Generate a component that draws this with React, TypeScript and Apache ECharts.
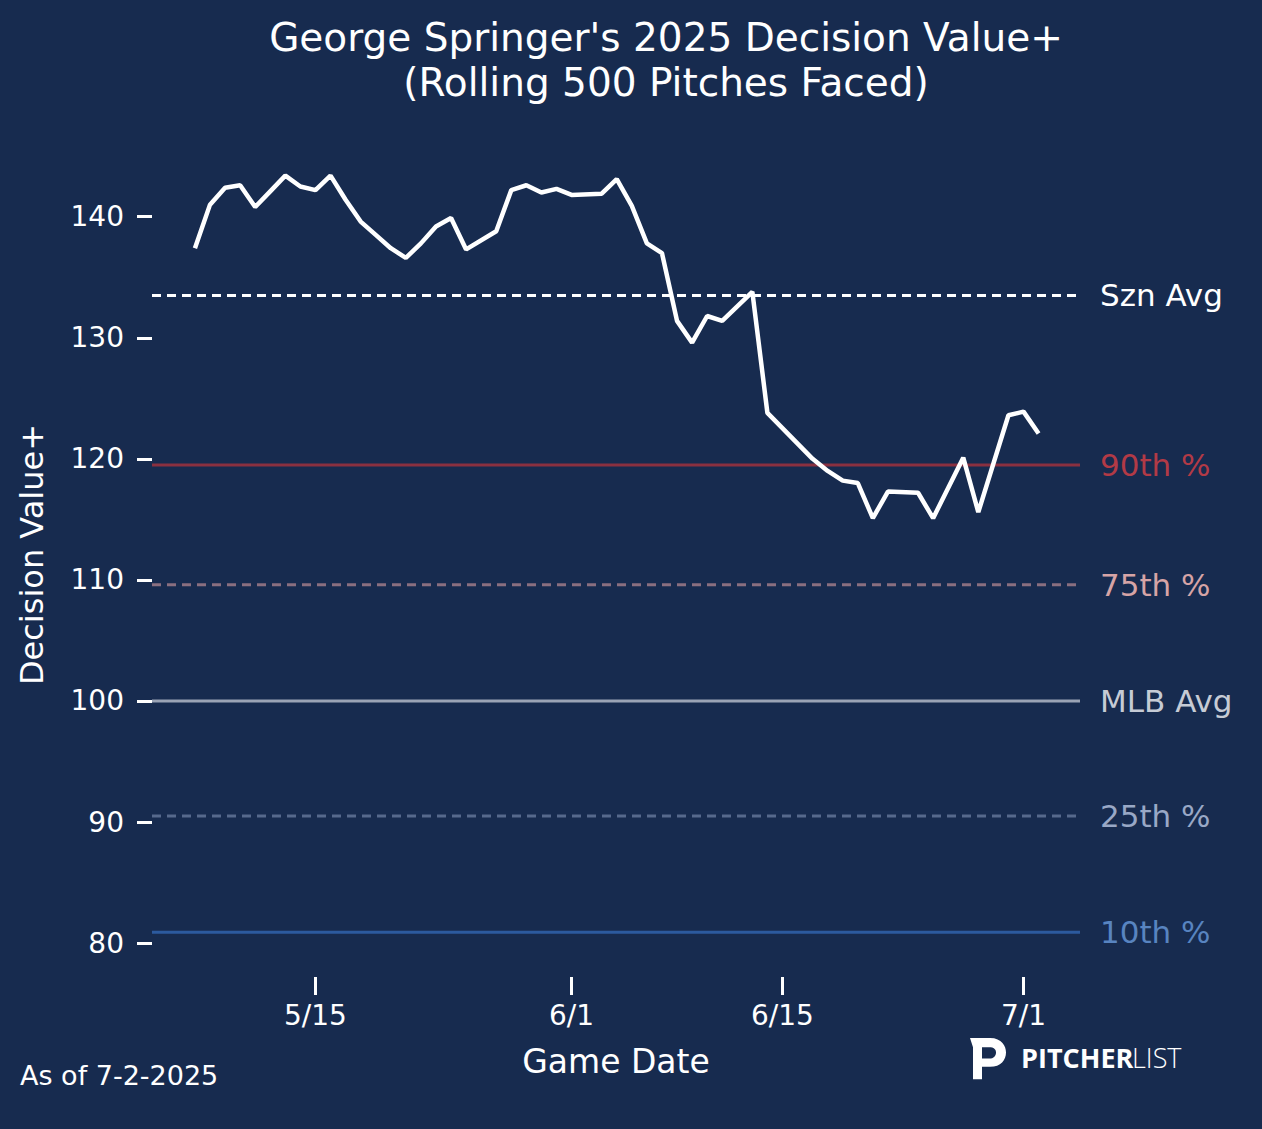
import * as echarts from "echarts";
import { useEffect, useRef } from "react";

// day of year 2025
const days = [127, 128, 129, 130, 131, 132, 133, 134, 135, 136, 137, 138, 139, 140, 141, 142, 143, 144, 145, 147, 148, 149, 150, 151, 152, 154, 155, 156, 157, 158, 159, 160, 161, 162, 164, 165, 168, 169, 170, 171, 172, 173, 175, 176, 178, 179, 181, 182, 183];
const values = [137.4, 141.0, 142.4, 142.6, 140.8, 142.1, 143.4, 142.5, 142.2, 143.4, 141.4, 139.6, 138.5, 137.4, 136.6, 137.8, 139.2, 139.9, 137.3, 138.8, 142.2, 142.6, 142.0, 142.3, 141.8, 141.9, 143.1, 140.9, 137.8, 137.0, 131.4, 129.6, 131.8, 131.4, 133.8, 123.8, 120.0, 119.0, 118.2, 118.0, 115.1, 117.3, 117.2, 115.1, 120.1, 115.6, 123.6, 123.9, 122.1];

const tickDays = [135, 152, 166, 182];
const tickLabels = ["5/15", "6/1", "6/15", "7/1"];
const yTicks = [80, 90, 100, 110, 120, 130, 140];

const refNames = ["Szn Avg", "90th %", "75th %", "MLB Avg", "25th %", "10th %"];
const refValues = [133.5, 119.5, 109.6, 100, 90.5, 80.9];
const refLine = ["#ffffff", "#8a3040", "#8a6f80", "#9aa3b5", "#56698c", "#2c5a9e"];
const refLabel = ["#ffffff", "#b23a46", "#d6a4a6", "#c6cbd5", "#99a8c6", "#5884c0"];
const refDashed = [true, false, true, false, true, false];

const X_MIN = 124.15;
const X_MAX = 185.75;
const BG = "#172b4f";
const FONT = "DejaVu Sans";

export default function App() {
  const ref = useRef<HTMLDivElement | null>(null);

  useEffect(() => {
    document.body.style.margin = "0";
    const el = ref.current;
    if (!el) return;
    const chart = echarts.init(el, undefined, { renderer: "svg" });
    echarts.graphic.registerShape(
      "plogo",
      echarts.graphic.extendPath("M0 0 L20 0 C32 0 36 8 36 14 C36 21 31 28 20 28 L12 28 L12 40 L3 40 L3 9 L0 0 Z M12 9 L12 20 L19 20 C24 20 26 17 26 14 C26 11 24 9 19 9 Z", {}) as any
    );
    const lines = refValues.map((v, i) => ({
      name: refNames[i],
      type: "line" as const,
      data: [[X_MIN, v], [X_MAX, v]],
      symbol: "none",
      lineStyle: { color: refLine[i], width: 3, type: refDashed[i] ? [9, 6] : "solid" },
      endLabel: {
        show: true,
        formatter: refNames[i],
        color: refLabel[i],
        fontSize: 31,
        fontFamily: FONT,
        distance: 20,
      },
      z: 1,
    }));
    chart.setOption({
      animation: false,
      backgroundColor: BG,
      textStyle: { fontFamily: FONT },
      title: {
        text: "George Springer's 2025 Decision Value+\n(Rolling 500 Pitches Faced)",
        left: 661,
        top: 10,
        textAlign: "center",
        textStyle: { color: "#fff", fontSize: 39, fontWeight: "normal", lineHeight: 45, fontFamily: FONT },
      },
      grid: { left: 152, right: 182, top: 132, bottom: 152 },
      xAxis: {
        type: "value",
        min: X_MIN,
        max: X_MAX,
        name: "Game Date",
        nameLocation: "middle",
        nameGap: 68,
        nameTextStyle: { color: "#fff", fontSize: 33 },
        axisLine: { show: false },
        splitLine: { show: false },
        axisTick: { show: true, customValues: tickDays, length: 18, lineStyle: { color: "#fff", width: 3 } },
        axisLabel: {
          customValues: tickDays,
          color: "#fff",
          fontSize: 28,
          margin: 24,
          formatter: (v: number) => tickLabels[tickDays.indexOf(v)] ?? "",
        },
      },
      yAxis: {
        type: "value",
        min: 77.2,
        max: 147,
        name: "Decision Value+",
        nameLocation: "middle",
        nameGap: 104,
        nameTextStyle: { color: "#fff", fontSize: 32 },
        axisLine: { show: false },
        splitLine: { show: false },
        axisTick: { show: true, customValues: yTicks, length: 15, lineStyle: { color: "#fff", width: 3 } },
        axisLabel: { customValues: yTicks, color: "#fff", fontSize: 28, margin: 28 },
      },
      series: [
        ...lines,
        {
          type: "line",
          data: days.map((d, i) => [d, values[i]]),
          symbol: "none",
          lineStyle: { color: "#fff", width: 4.5 },
          z: 5,
        },
      ],
      graphic: [
        { type: "text", left: 20, top: 1062, style: { text: "As of 7-2-2025", fill: "#fff", fontSize: 27, fontFamily: FONT } },
        { type: "plogo", x: 970, y: 1038, scaleX: 1, scaleY: 1.03, style: { fill: "#fff" } },
        { type: "text", left: 1021, top: 1044, style: { text: "PITCHER", fill: "#fff", fontSize: 27, fontWeight: "bold", fontFamily: "Open Sans" } },
        { type: "text", left: 1132, top: 1044, style: { text: "LIST", fill: "#fff", fontSize: 27, fontWeight: 300, fontFamily: "Open Sans" } },
      ],
    });
    return () => chart.dispose();
  }, []);

  return <div ref={ref} style={{ width: 1262, height: 1129 }} />;
}
